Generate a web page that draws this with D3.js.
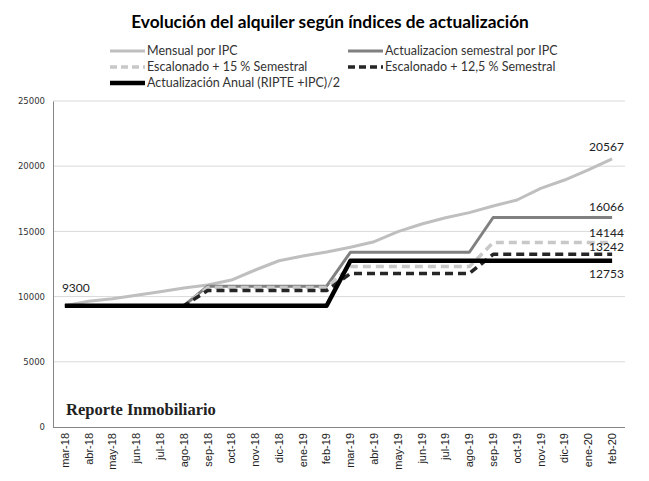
<!DOCTYPE html>
<html>
<head>
<meta charset="utf-8">
<script src="https://cdn.jsdelivr.net/npm/d3@7"></script>
<style>
  body { margin: 0; background: #fff; }
  svg { display: block; font-family: Lato, "Open Sans", sans-serif; }
</style>
</head>
<body>
<div id="chart"></div>
<script>
// data
const meses = ["mar-18","abr-18","may-18","jun-18","jul-18","ago-18","sep-18","oct-18","nov-18","dic-18","ene-19","feb-19",
               "mar-19","abr-19","may-19","jun-19","jul-19","ago-19","sep-19","oct-19","nov-19","dic-19","ene-20","feb-20"];
const mensualIPC = [9300, 9640, 9840, 10100, 10380, 10660, 10890, 11270, 12040, 12750, 13110, 13420,
                    13780, 14210, 14980, 15570, 16050, 16440, 16950, 17410, 18300, 18940, 19710, 20567];
const semestralIPC = [9300, 9300, 9300, 9300, 9300, 9300, 10800, 10800, 10800, 10800, 10800, 10800,
                      13400, 13400, 13400, 13400, 13400, 13400, 16066, 16066, 16066, 16066, 16066, 16066];
const escalonado15 = [9300, 9300, 9300, 9300, 9300, 9300, 10695, 10695, 10695, 10695, 10695, 10695,
                      12299, 12299, 12299, 12299, 12299, 12299, 14144, 14144, 14144, 14144, 14144, 14144];
const escalonado125 = [9300, 9300, 9300, 9300, 9300, 9300, 10463, 10463, 10463, 10463, 10463, 10463,
                       11770, 11770, 11770, 11770, 11770, 11770, 13242, 13242, 13242, 13242, 13242, 13242];
const anualRipte = [9300, 9300, 9300, 9300, 9300, 9300, 9300, 9300, 9300, 9300, 9300, 9300,
                    12753, 12753, 12753, 12753, 12753, 12753, 12753, 12753, 12753, 12753, 12753, 12753];
const yTicks = [0, 5000, 10000, 15000, 20000, 25000];

const series = [
  {name: "Mensual por IPC", values: mensualIPC, color: "#bfbfbf", width: 3, dash: null},
  {name: "Actualizacion semestral por IPC", values: semestralIPC, color: "#808080", width: 3, dash: null},
  {name: "Escalonado + 15 % Semestral", values: escalonado15, color: "#c8c8c8", width: 3.5, dash: "8,5"},
  {name: "Escalonado + 12,5 % Semestral", values: escalonado125, color: "#262626", width: 3.5, dash: "8,5"},
  {name: "Actualización Anual (RIPTE +IPC)/2", values: anualRipte, color: "#000000", width: 4.5, dash: null}
];

const width = 649, height = 481;
const plotLeft = 53, plotRight = 624, plotTop = 101, plotBottom = 427;

const svg = d3.select("#chart").append("svg").attr("width", width).attr("height", height);

const x = d3.scaleBand().domain(meses).range([plotLeft, plotRight]);
const y = d3.scaleLinear().domain([0, 25000]).range([plotBottom, plotTop]);
const cx = d => x(d) + x.bandwidth() / 2;

// title
svg.append("text").attr("x", 330).attr("y", 28).attr("text-anchor", "middle")
  .style("font-size", "17.3px").style("font-weight", "bold").attr("fill", "#000")
  .text("Evolución del alquiler según índices de actualización");

// gridlines
svg.append("g").selectAll("line").data(yTicks.slice(1)).enter().append("line")
  .attr("x1", plotLeft).attr("x2", plotRight + 1).attr("y1", d => y(d)).attr("y2", d => y(d))
  .attr("stroke", "#d9d9d9").attr("stroke-width", 1);

// axes
const yAxis = svg.append("g").attr("transform", "translate(" + plotLeft + ",0)")
  .call(d3.axisLeft(y).tickValues(yTicks).tickFormat(d3.format("d")).tickSize(0).tickPadding(8));
yAxis.select(".domain").attr("stroke", "#868686");
yAxis.selectAll("text").style("font-size", "8.5px").style("font-family", "'DejaVu Sans', sans-serif").attr("fill", "#333");

const xAxis = svg.append("g").attr("transform", "translate(0," + plotBottom + ")")
  .call(d3.axisBottom(x).tickSize(0));
xAxis.select(".domain").attr("stroke", "#868686").attr("d", "M" + plotLeft + ",0.5H" + (plotRight + 1));
xAxis.selectAll("text")
  .attr("transform", "rotate(-90)").attr("text-anchor", "end")
  .attr("x", -6).attr("y", 0).attr("dy", "0.35em")
  .style("font-size", "11px").attr("fill", "#222");

// watermark
svg.append("text").attr("x", 66).attr("y", 415)
  .style("font-family", "'Liberation Serif', serif").style("font-weight", "bold").style("font-size", "16.5px")
  .attr("fill", "#222").text("Reporte Inmobiliario");

// lines
const line = d3.line().x((d, i) => cx(meses[i])).y(d => y(d));
svg.append("g").selectAll("path").data(series).enter().append("path")
  .attr("d", d => line(d.values))
  .attr("fill", "none")
  .attr("stroke", d => d.color)
  .attr("stroke-width", d => d.width)
  .attr("stroke-dasharray", d => d.dash)
  .attr("stroke-linejoin", "round");

// data labels
const last = meses.length - 1;
const lbl = svg.append("g").style("font-size", "12px").attr("fill", "#222");
lbl.append("text").attr("x", cx(meses[0]) - 3).attr("y", y(mensualIPC[0]) - 14).text(mensualIPC[0]);
const endOffsets = [-8, -6, -6, -3, 17];
series.forEach((s, i) => {
  lbl.append("text").attr("x", cx(meses[last]) - 23).attr("y", y(s.values[last]) + endOffsets[i])
    .text(s.values[last]);
});

// legend
const legendPos = [[110, 51], [348, 51], [110, 67], [348, 67], [110, 83]];
const lg = svg.append("g");
series.forEach((s, i) => {
  const [lx, ly] = legendPos[i];
  lg.append("line").attr("x1", lx).attr("x2", lx + 35).attr("y1", ly).attr("y2", ly)
    .attr("stroke", s.color).attr("stroke-width", s.width).attr("stroke-dasharray", s.dash ? "7,4" : null);
  lg.append("text").attr("x", lx + 37).attr("y", ly).attr("dy", "0.35em")
    .style("font-size", "12.5px").attr("fill", "#333").text(s.name);
});
</script>
</body>
</html>
